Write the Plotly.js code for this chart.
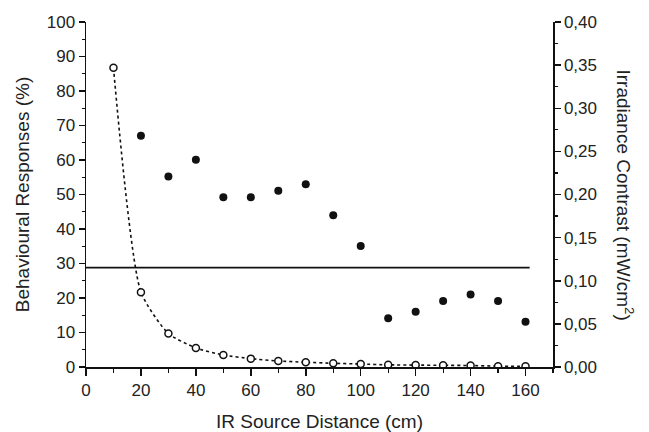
<!DOCTYPE html>
<html>
<head>
<meta charset="utf-8">
<script src="https://cdn.plot.ly/plotly-3.0.1.min.js"></script>
<style>html,body{margin:0;padding:0;background:#fff;}#chart{width:649px;height:432px;}</style>
</head>
<body>
<div id="chart"></div>
<script>
// IR source distance (cm)
const distance = [10, 20, 30, 40, 50, 60, 70, 80, 90, 100, 110, 120, 130, 140, 150, 160];
// Behavioural responses (%) – filled circles, left axis (no value at 10 cm)
const respDistance = [20, 30, 40, 50, 60, 70, 80, 90, 100, 110, 120, 130, 140, 150, 160];
const responses = [67.0, 55.2, 60.1, 49.2, 49.2, 51.1, 53.0, 44.0, 35.1, 14.1, 16.0, 19.1, 21.0, 19.1, 13.1];
// Irradiance contrast (mW/cm^2) – open circles, right axis
const irradiance = [0.347, 0.0868, 0.0388, 0.0221, 0.0139, 0.0097, 0.0070, 0.0055, 0.0043, 0.0035, 0.0025, 0.0022, 0.0020, 0.0017, 0.0010, 0.0008];
// Threshold line (left axis, %)
const thresholdX = [0, 161.5];
const thresholdY = [28.8, 28.8];

const black = '#111';
const tickFont = {family: 'Liberation Sans, Arial, sans-serif', size: 17, color: '#222'};

const traces = [
  {x: thresholdX, y: thresholdY, mode: 'lines', line: {color: black, width: 1.6}, xaxis: 'x', yaxis: 'y', hoverinfo: 'skip'},
  {x: distance, y: irradiance, mode: 'lines+markers', xaxis: 'x', yaxis: 'y2',
   line: {color: black, width: 1.6, dash: 'dot', shape: 'spline', smoothing: 0.6},
   marker: {symbol: 'circle', size: 7, color: '#fff', line: {color: black, width: 1.5}}},
  {x: respDistance, y: responses, mode: 'markers', xaxis: 'x', yaxis: 'y',
   marker: {symbol: 'circle', size: 8, color: black}}
];

const layout = {
  width: 649, height: 432,
  margin: {l: 86, r: 96, t: 22, b: 65},
  paper_bgcolor: '#fff', plot_bgcolor: '#fff',
  showlegend: false,
  separators: ',.',
  font: tickFont,
  xaxis: {
    range: [0, 170], dtick: 20, tick0: 0, showgrid: false, zeroline: false,
    showline: true, linecolor: black, linewidth: 1.5,
    ticks: 'outside', ticklen: 7, tickwidth: 1.5, tickcolor: black,
    minor: {dtick: 10, ticks: 'outside', ticklen: 4, tickwidth: 1.2, tickcolor: black},
    tickfont: tickFont,
    title: {text: 'IR Source Distance (cm)', font: {family: 'Liberation Sans, Arial, sans-serif', size: 19, color: '#222'}, standoff: 18}
  },
  xaxis2: {
    overlaying: 'x', side: 'top', anchor: 'y', matches: 'x',
    range: [0, 170], dtick: 20, tick0: 0, showgrid: false, zeroline: false,
    showline: true, linecolor: black, linewidth: 1.5, showticklabels: false,
    ticks: 'inside', ticklen: 7, tickwidth: 1.5, tickcolor: black,
    minor: {dtick: 10, ticks: 'inside', ticklen: 4, tickwidth: 1.2, tickcolor: black}
  },
  yaxis: {
    range: [0, 100], dtick: 10, tick0: 0, showgrid: false, zeroline: false,
    showline: true, linecolor: black, linewidth: 1.5,
    ticks: 'outside', ticklen: 6, tickwidth: 1.5, tickcolor: black,
    minor: {dtick: 5, ticks: 'outside', ticklen: 3, tickwidth: 1.2, tickcolor: black},
    tickfont: tickFont,
    title: {text: 'Behavioural Responses (%)', font: {family: 'Liberation Sans, Arial, sans-serif', size: 19, color: '#222'}, standoff: 12}
  },
  yaxis2: {
    overlaying: 'y', side: 'right', anchor: 'x',
    range: [0, 0.4], dtick: 0.05, tick0: 0, tickformat: '.2f', showgrid: false, zeroline: false,
    showline: true, linecolor: black, linewidth: 1.5,
    ticks: 'outside', ticklen: 6, tickwidth: 1.5, tickcolor: black,
    minor: {dtick: 0.025, ticks: 'outside', ticklen: 3, tickwidth: 1.2, tickcolor: black},
    tickfont: tickFont
  },
  annotations: [{
    text: 'Irradiance Contrast (mW/cm<sup>2</sup>)', textangle: 90,
    xref: 'paper', yref: 'paper', x: 1, xshift: 72, y: 0.5,
    xanchor: 'center', yanchor: 'middle', showarrow: false,
    font: {family: 'Liberation Sans, Arial, sans-serif', size: 19, color: '#222'}
  }]
};

Plotly.newPlot('chart', traces, layout, {staticPlot: true, displayModeBar: false});
</script>
</body>
</html>
